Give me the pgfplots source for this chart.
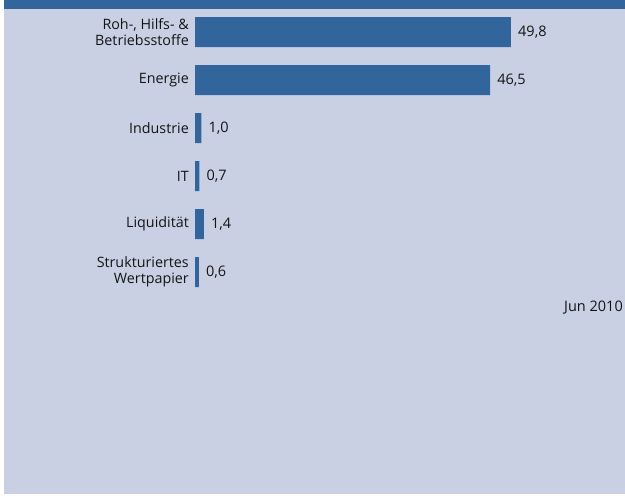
\documentclass[border=0pt]{standalone}
\usepackage{pgfplots}
\pgfplotsset{compat=1.18}
\usepackage{fontspec}
\setmainfont{Open Sans}
\definecolor{bg}{RGB}{202,208,227}
\definecolor{barc}{RGB}{49,101,156}
\definecolor{txt}{RGB}{20,20,20}
\begin{document}
\begin{tikzpicture}[x=1bp,y=1bp]
\fill[white] (0,0) rectangle (625,-497);
\fill[bg] (4,0) rectangle (625,-494);
\fill[barc] (4,0) rectangle (625,-9);
\begin{axis}[
  at={(195bp,-8bp)}, anchor=north west,
  scale only axis, width=380.7bp, height=288bp,
  xbar, bar width=30bp,
  xmin=0, xmax=60, ymin=-0.5, ymax=5.5, y dir=reverse,
  axis line style={draw=none}, major tick length=0pt,
  xtick=\empty, ytick={0,1,2,3,4,5},
  yticklabels={{Roh-, Hilfs- \&\\Betriebsstoffe},Energie,Industrie,IT,Liquidität,{Strukturiertes\\Wertpapier}},
  yticklabel style={align=right, font=\fontsize{14.3bp}{16bp}\selectfont, text=txt, inner sep=0pt, xshift=-6bp},
  /pgf/number format/use comma,
  /pgf/number format/fixed,
  /pgf/number format/fixed zerofill,
  /pgf/number format/precision=1,
  /pgf/number format/assume math mode=true,
  nodes near coords,
  nodes near coords style={anchor=west, inner sep=0pt, xshift=7bp, font=\fontsize{14.5bp}{16bp}\selectfont, text=txt},
  clip=false,
]
\addplot[fill=barc, draw=none] coordinates {(49.8,0) (46.5,1) (1.0,2) (0.7,3) (1.4,4) (0.6,5)};
\end{axis}
\node[anchor=east, font=\fontsize{14.5bp}{16bp}\selectfont, text=txt, inner sep=0pt] at (623,-308) {Jun 2010};
\pgfresetboundingbox
\useasboundingbox (0,0) rectangle (625,-497);
\end{tikzpicture}
\end{document}
